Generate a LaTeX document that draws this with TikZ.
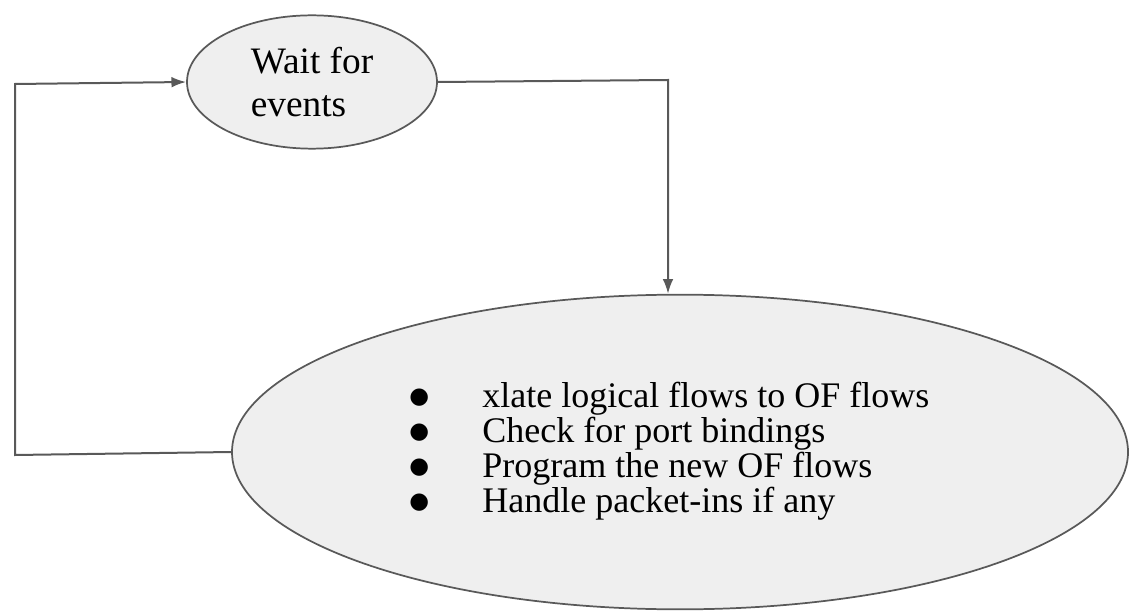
\documentclass[tikz,border=0pt]{standalone}
\usepackage{fontspec}
\setmainfont{Liberation Serif}
\newfontfamily\dotfont{DejaVu Sans}
\usetikzlibrary{shapes.geometric,arrows.meta}
\definecolor{linegray}{HTML}{595959}
\definecolor{fillgray}{HTML}{EFEFEF}
\newcommand{\blt}{\raisebox{3pt}{\dotfont\fontsize{17}{17}\selectfont ●}}

\begin{document}
\begin{tikzpicture}[x=0.75pt, y=-0.75pt,
    state/.style={ellipse, draw=linegray, fill=fillgray, line width=1.3pt},
    flow/.style={draw=linegray, line width=1.5pt, -{Latex[length=11pt,width=8pt]}}]

    \useasboundingbox (0,0) rectangle (1130,616);

    \node[state, minimum width=187.5pt, minimum height=100pt, align=left,
          font=\fontsize{28}{32}\selectfont] (wait) at (312,82) {Wait for\\events};
    \node[state, minimum width=672pt, minimum height=236pt,
          font=\fontsize{27}{24.5}\selectfont] (handle) at (680,452)
        {\begin{tabular}{@{}l@{\hspace{40pt}}l@{}}
            \blt & xlate logical flows to OF flows\\
            \blt & Check for port bindings\\
            \blt & Program the new OF flows\\
            \blt & Handle packet-ins if any
         \end{tabular}\hspace*{16pt}};

    \coordinate (tr) at (668,80);
    \coordinate (bl) at (15,455);
    \coordinate (tl) at (15,84);

    \draw [flow] (wait.east) -- (tr) -- (tr |- handle.north);
    \draw [flow] (handle.west) -- (bl) -- (tl) -- (wait.west);

\end{tikzpicture}
\end{document}
